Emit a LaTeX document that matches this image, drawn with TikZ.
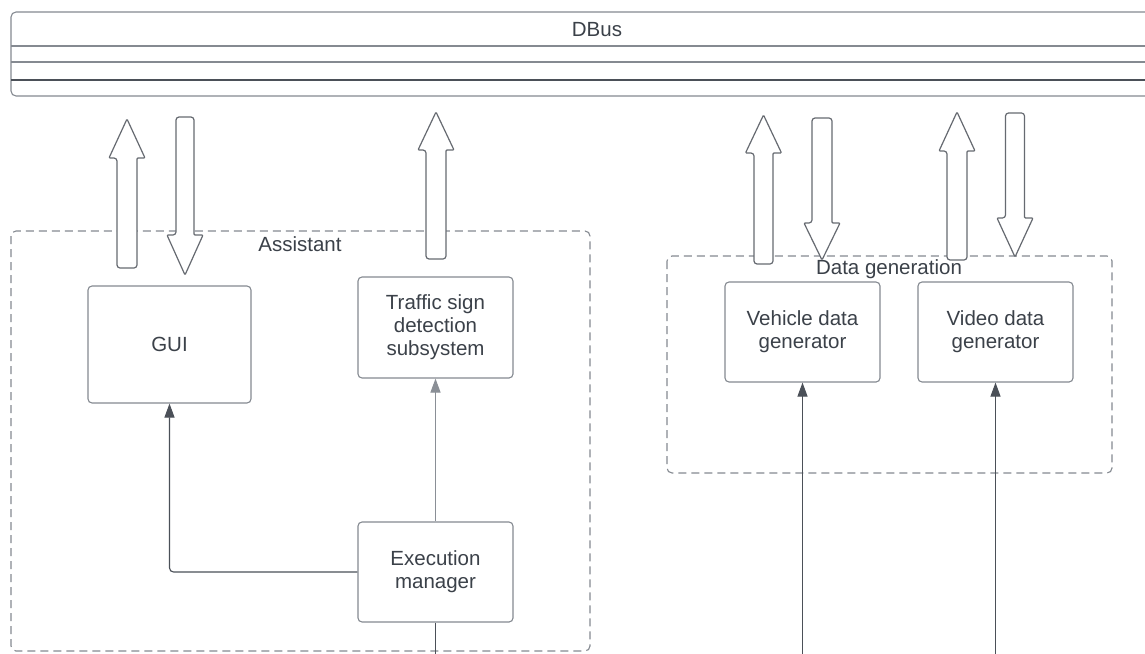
\documentclass[tikz,border=0pt]{standalone}
\usepackage{fontspec}
\setmainfont{Liberation Sans}
\usetikzlibrary{arrows.meta}
\definecolor{txt}{HTML}{3B4149}
\definecolor{boxline}{HTML}{858A91}
\definecolor{conn}{HTML}{4B5058}
\definecolor{conlight}{HTML}{8A8F96}
\newcommand{\blkup}[6]{% cx, tip, headbase, bottom, shaft half, head half
  \draw[blk] ({#1-#5},#4) [rounded corners=3pt] -- ({#1-#5},#3) [rounded corners=1pt] -- ({#1-#6},#3) -- (#1,#2) -- ({#1+#6},#3) -- ({#1+#5},#3) [rounded corners=3pt] -- ({#1+#5},#4) -- cycle;}
\newcommand{\blkdown}[6]{% cx, tip, headbase, top, shaft half, head half
  \draw[blk] ({#1-#5},#4) [rounded corners=3pt] -- ({#1-#5},#3) [rounded corners=1pt] -- ({#1-#6},#3) -- (#1,#2) -- ({#1+#6},#3) -- ({#1+#5},#3) [rounded corners=3pt] -- ({#1+#5},#4) -- cycle;}
\begin{document}
\begin{tikzpicture}[x=1pt,y=-1pt,
  every node/.style={text=txt,font=\fontsize{20.5}{23}\selectfont},
  comp/.style={draw=boxline,line width=1.1pt,rounded corners=4pt,align=center,inner sep=0pt},
  grp/.style={draw=boxline,line width=1.1pt,dashed,dash pattern=on 8pt off 5pt,rounded corners=5pt},
  blk/.style={draw=conn!85,line width=1.2pt,fill=white},
  conline/.style={draw=conn,line width=1.1pt,-{Triangle[length=14pt,width=10pt]}},
  plain/.style={draw=conn,line width=1.1pt}]
\useasboundingbox (0,0) rectangle (1145,653);
\fill[white] (0,0) rectangle (1145,653);
% DBus
\draw[draw=boxline,line width=1.1pt,rounded corners=5pt] (11,12) rectangle (1160,96);
\draw[draw=boxline,line width=1.1pt] (11,46) -- (1160,46);
\draw[draw=boxline,line width=1.1pt] (11,62) -- (1160,62);
\draw[draw=conn,line width=1.1pt] (11,80) -- (1160,80);
\node (dbus) at (597,30) {DBus};
% groups
\draw[grp] (11,231) rectangle (590,651);
\node (assistant) at (300,244) {Assistant};
\draw[grp] (667,256) rectangle (1112,473);
\node (datagen) at (889,269) {Data generation};
% block arrows
\blkup{127}{119}{158}{268}{10}{18}
\blkdown{185}{275}{235}{117}{9}{18}
\blkup{436}{112}{150}{259}{10}{18}
\blkup{763.5}{115}{153}{264}{9.5}{18}
\blkdown{822}{260}{223}{118}{10}{18}
\blkup{957}{112}{151}{260}{10}{18}
\blkdown{1015}{257}{218}{113}{9.5}{18}
% components
\node[comp,minimum width=163pt,minimum height=117pt] (gui) at (169.5,344.5) {GUI};
\node[comp,minimum width=155pt,minimum height=101pt] (tsd) at (435.5,327.5) {Traffic sign\\detection\\subsystem};
\node[comp,minimum width=155pt,minimum height=100pt] (em) at (435.5,572) {Execution\\manager};
\node[comp,minimum width=155pt,minimum height=100pt] (veh) at (802.5,332) {Vehicle data\\generator};
\node[comp,minimum width=155pt,minimum height=100pt] (vid) at (995.5,332) {Video data\\generator};
% connectors
\coordinate (embot) at (435.5,660);
\coordinate (vehbot) at (802.5,660);
\coordinate (vidbot) at (995.5,660);
\draw[conline,draw=conlight] (em.north) -- (tsd.south);
\draw[conline,rounded corners=4pt] (em.west) -| (gui.south);
\draw[plain] (em.south) -- (embot);
\draw[conline] (vehbot) -- (veh.south);
\draw[conline] (vidbot) -- (vid.south);
\end{tikzpicture}
\end{document}
